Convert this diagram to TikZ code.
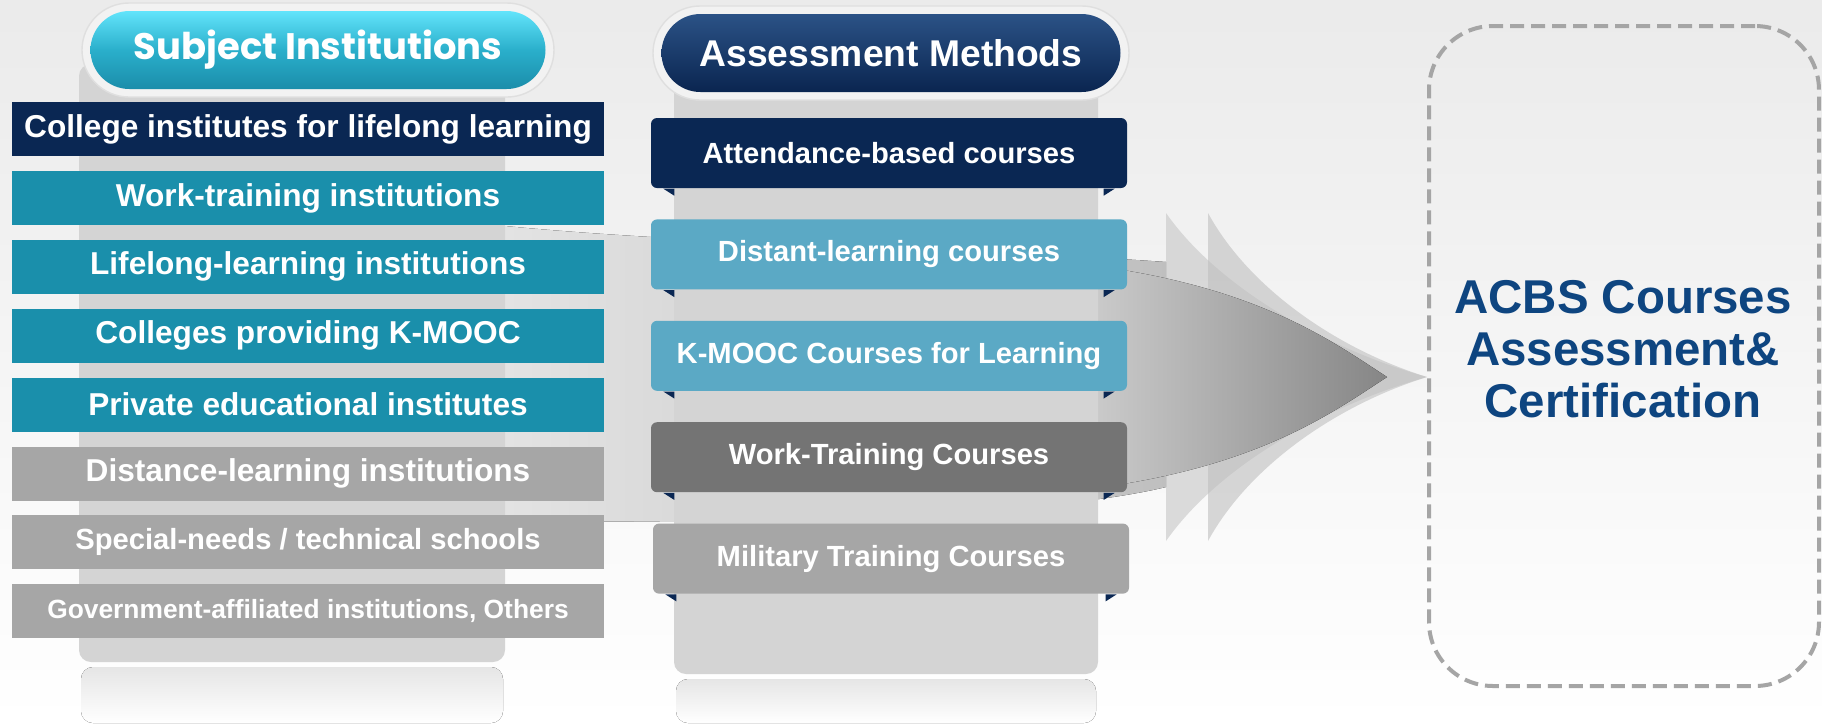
\documentclass[tikz,border=0pt]{standalone}
\usepackage{fontspec}
\setmainfont{Liberation Sans}
\newfontfamily\gothicfont{Poppins}
\usetikzlibrary{positioning}

\definecolor{navybox}{HTML}{0A2753}
\definecolor{tealbox}{HTML}{1A8FAB}
\definecolor{skybox}{HTML}{5BA9C5}
\definecolor{greybox}{HTML}{A6A6A6}
\definecolor{darkbox}{HTML}{747474}
\definecolor{pilltop}{HTML}{62E4FB}
\definecolor{pillmid}{HTML}{2AAFCB}
\definecolor{pillbot}{HTML}{1B8DAA}
\definecolor{navytop}{HTML}{2B5286}
\definecolor{navybot}{HTML}{0A2550}
\definecolor{acbsblue}{HTML}{0E4580}
\definecolor{dashgray}{HTML}{A5A5A5}

\tikzset{
  instbox/.style={minimum width=59.2mm, minimum height=5.4mm, inner sep=0pt,
    text=white, font=\bfseries\fontsize{9}{10}\selectfont},
  methbox/.style={rounded corners=0.6mm, minimum width=47.6mm, minimum height=7mm,
    inner sep=0pt, text=white, font=\bfseries\fontsize{8.3}{10}\selectfont},
  halo/.style={fill=white!90!gray, draw=gray!25, rounded corners=4.7mm,
    minimum width=47.2mm, minimum height=9.4mm},
  pill/.style={rounded corners=3.9mm, minimum width=45.5mm, minimum height=7.8mm,
    inner sep=0pt, text=white},
  column/.style={fill=gray!34, rounded corners=1.2mm},
  mirror/.style={top color=gray!20, bottom color=white, rounded corners=1.2mm},
  tab/.style={fill=navybox},
}

\begin{document}
\begin{tikzpicture}[x=0.1mm, y=-0.1mm]
\useasboundingbox (0,0) rectangle (1822,723);
\fill[top color=gray!16, bottom color=white] (0,0) rectangle (1822,723);

\node[draw=dashgray, line width=0.4mm, dash pattern=on 1.4mm off 0.7mm,
  rounded corners=6.4mm, minimum width=39mm, minimum height=66mm] (acbs) at (1624,356) {};
\node[text=acbsblue, align=center, font=\bfseries\fontsize{13.5}{14.8}\selectfont]
  (acbstxt) at (1623,349) {ACBS Courses\\Assessment\&\\Certification};

\coordinate (tip) at ([yshift=-2.1mm]acbs.west);
\fill[left color=gray!22, right color=gray!50] (505,226) .. controls (700,245) and (1000,250) .. (1166,262)
  -- (1166,487) .. controls (1050,515) and (800,522) .. (505,522) -- cycle;
\fill[gray!45, opacity=.6] (1166,213) .. controls (1220,290) and (1330,350) .. (tip)
  .. controls (1330,404) and (1220,464) .. (1166,541) -- cycle;
\fill[gray!50, opacity=.6] (1208,213) .. controls (1250,290) and (1340,350) .. (tip)
  .. controls (1340,404) and (1250,464) .. (1208,541) -- cycle;
\fill[left color=gray!35, right color=gray!95] (1060,262) .. controls (1250,280) and (1330,340) .. ([xshift=-4mm]tip)
  .. controls (1330,414) and (1250,474) .. (1060,492) -- cycle;

\begin{scope}
\fill[column] (79,64) rectangle (505,662);
\fill[mirror] (81,667) rectangle (503,723);
\node[halo] (sihalo) at (318,50) {};
\node[pill, top color=pilltop, bottom color=pillbot, middle color=pillmid] (subj) at (318,50)
  {\gothicfont\bfseries\fontsize{10.5}{12}\selectfont Subject Institutions};

\node[instbox, fill=navybox] (i1) at (308,129) {College institutes for lifelong learning};
\node[instbox, fill=tealbox, below=1.35mm of i1] (i2) {Work-training institutions};
\node[instbox, fill=tealbox, below=1.35mm of i2] (i3) {Lifelong-learning institutions};
\node[instbox, fill=tealbox, below=1.35mm of i3] (i4) {Colleges providing K-MOOC};
\node[instbox, fill=tealbox, below=1.35mm of i4] (i5) {Private educational institutes};
\node[instbox, fill=greybox, below=1.35mm of i5] (i6) {Distance-learning institutions};
\node[instbox, fill=greybox, below=1.35mm of i6, font=\bfseries\fontsize{8.3}{10}\selectfont] (i7) {Special-needs / technical schools};
\node[instbox, fill=greybox, below=1.35mm of i7, font=\bfseries\fontsize{7.5}{9}\selectfont] (i8) {Government-affiliated institutions, Others};
\end{scope}

\begin{scope}
\fill[column] (674,70) rectangle (1098,674);
\fill[mirror] (676,679) rectangle (1096,723);
\node[halo, minimum width=47.6mm] (amhalo) at (891,53) {};
\node[pill, top color=navytop, bottom color=navybot, minimum width=45.9mm,
  font=\bfseries\fontsize{10.6}{12}\selectfont] (meth) at (891,53) {Assessment Methods};

\node[methbox, fill=navybox] (m1) at (889,153) {Attendance-based courses};
\node[methbox, fill=skybox, below=3mm of m1] (m2) {Distant-learning courses};
\node[methbox, fill=skybox, below=3mm of m2] (m3) {K-MOOC Courses for Learning};
\node[methbox, fill=darkbox, below=3mm of m3] (m4) {Work-Training Courses};
\node[methbox, fill=greybox, below=3mm of m4, xshift=0.2mm] (m5) {Military Training Courses};
\foreach \b in {m1,m2,m3,m4,m5}{
  \fill[tab] ([xshift=1.3mm]\b.south west) -- ([xshift=2.4mm]\b.south west) -- ([xshift=2.4mm,yshift=-0.7mm]\b.south west) -- cycle;
  \fill[tab] ([xshift=-1.3mm]\b.south east) -- ([xshift=-2.4mm]\b.south east) -- ([xshift=-2.4mm,yshift=-0.7mm]\b.south east) -- cycle;
}
\end{scope}
\end{tikzpicture}
\end{document}
